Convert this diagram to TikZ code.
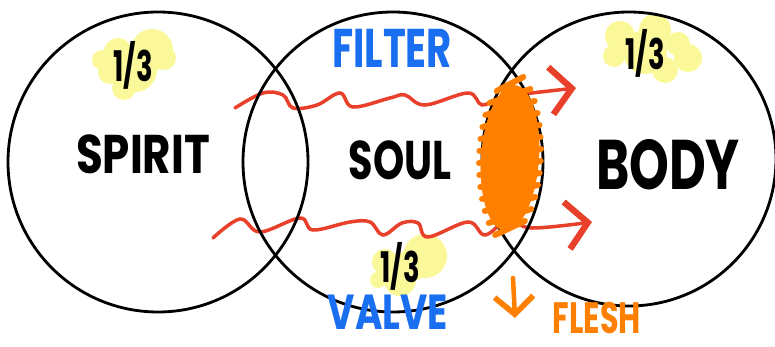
\documentclass[tikz,border=0pt]{standalone}
\usepackage{fontspec}
\setmainfont{Poppins}
\usetikzlibrary{arrows.meta}
\definecolor{wavered}{HTML}{E8402A}
\definecolor{penblue}{HTML}{1A6EF0}
\definecolor{fleshorange}{HTML}{FF7F00}
\definecolor{hilite}{HTML}{FBF89A}
\tikzset{
	ring/.style={line width=1.6pt},
	wave/.style={wavered,line width=2pt,line cap=round,-{Straight Barb[length=12pt,width=27pt,line width=3.6pt]}},
	blob/.style={fill=hilite},
	word/.style={font=\bfseries\fontsize{#1}{#1}\selectfont,inner sep=0pt},
	third/.style={word=24}
}

\begin{document}
\begin{tikzpicture}[x=0.02cm,y=-0.02cm]
	\useasboundingbox (0,0) rectangle (775,347);
	\foreach \bx/\by/\br in {102/60/10,118/52/14,152/50/21,164/58/12,135/70/22,124/88/12,110/72/12}
		\fill[blob] (\bx,\by) circle (\br);
	\foreach \bx/\by/\br in {620/36/15,655/30/16,688/58/14,665/70/13,614/56/11,645/52/22,678/44/12}
		\fill[blob] (\bx,\by) circle (\br);
	\foreach \bx/\by/\br in {385/262/13,425/256/22,400/280/16,378/280/8,410/266/16}
		\fill[blob] (\bx,\by) circle (\br);
	\draw[wave] plot[smooth,tension=0.6] coordinates {(235,108) (263,93) (283,95) (293,108) (317,105) (340,93) (353,107) (390,98) (405,95) (425,105) (468,93) (482,105) (502,97) (532,93) (576,88)};
	\draw[wave] plot[smooth,tension=0.6] coordinates {(213,238) (240,219) (260,232) (300,218) (313,230) (350,222) (370,222) (383,235) (402,223) (418,223) (428,237) (468,222) (485,235) (508,220) (532,228) (592,222)};
	\draw[ring] (158,162) circle (150);
	\draw[ring] (393,162) circle (150);
	\draw[ring] (629,159) circle (147);
	\fill[fleshorange,rotate around={-4:(510,158)}] (510,158) ellipse (29 and 73);
	\foreach \yy in {84,96,...,228}{
		\pgfmathsetmacro{\hw}{30*sqrt(1-((\yy-157)/80)^2)+1}
		\draw[fleshorange,line width=3.4pt,line cap=round] ({510-\hw},{\yy+7}) -- ({510+\hw},{\yy-7});}
	\node[word=31] (spirit) at (143,154) {\scalebox{0.8}[1]{SPIRIT}};
	\node[word=31] (soul) at (400,160) {\scalebox{0.73}[1]{SOUL}};
	\node[word=40] (body) at (668,165) {\scalebox{0.72}[1]{BODY}};
	\node[word=31,penblue] (filter) at (392,48) {\scalebox{0.71}[1]{FILTER}};
	\node[word=28,penblue] (valve) at (388,312) {\scalebox{0.76}[1]{VALVE}};
	\node[word=25,fleshorange] (flesh) at (597,318) {\scalebox{0.69}[1]{FLESH}};
	\node[third] (spiritpart) at (133,65) {\scalebox{0.65}[1]{1/3}};
	\node[third] (bodypart) at (645,53) {\scalebox{0.65}[1]{1/3}};
	\node[third] (soulpart) at (400,266) {\scalebox{0.65}[1]{1/3}};
	\coordinate (drop) at (515,318);
	\draw[fleshorange,line width=2.6pt,line cap=round,-{Straight Barb[length=10pt,width=22pt,line width=3.2pt]}] (513,278) -- (drop);
\end{tikzpicture}
\end{document}
